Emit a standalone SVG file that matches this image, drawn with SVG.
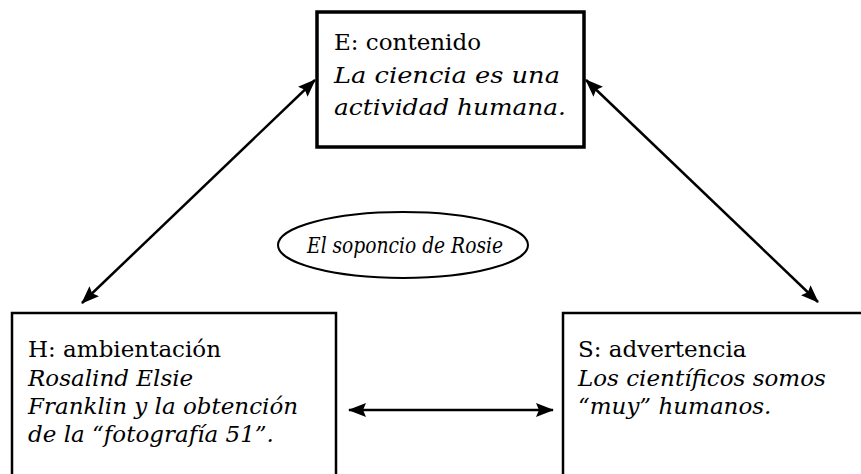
<svg xmlns="http://www.w3.org/2000/svg" width="861" height="474" viewBox="0 0 861 474">
  <defs>
    <marker id="ah" viewBox="0 0 18 14" refX="17" refY="7" markerWidth="18" markerHeight="14" markerUnits="userSpaceOnUse" orient="auto-start-reverse">
      <path d="M0,0 L18,7 L0,14 L3,7 Z" fill="#000"/>
    </marker>
  </defs>
  <style>
    .box { fill: #fff; stroke: #000; stroke-width: 3.5; }
    .box2 { fill: #fff; stroke: #000; stroke-width: 2.5; }
    .t { font-family: "DejaVu Serif", "Liberation Serif", serif; font-size: 23px; fill: #000; }
    .i { font-style: italic; }
    .conn { stroke: #000; stroke-width: 2.5; fill: none; marker-start: url(#ah); marker-end: url(#ah); }
  </style>
  <rect width="861" height="474" fill="#fff"/>
  <g id="connectors">
    <line class="conn" x1="315" y1="80" x2="82" y2="303"/>
    <line class="conn" x1="586" y1="80" x2="818" y2="302"/>
    <line class="conn" x1="349" y1="410" x2="553" y2="410"/>
  </g>
  <g id="node-e">
    <rect class="box" x="317" y="12" width="267" height="135"/>
    <text class="t" x="334" y="50">E: contenido</text>
    <text class="t i" x="334" y="83" textLength="226" lengthAdjust="spacingAndGlyphs">La ciencia es una</text>
    <text class="t i" x="334" y="115" textLength="232" lengthAdjust="spacingAndGlyphs">actividad humana.</text>
  </g>
  <g id="node-center">
    <ellipse cx="403" cy="245" rx="125" ry="33" fill="none" stroke="#000" stroke-width="2"/>
    <text class="t i" x="405" y="253" text-anchor="middle" style="font-size:22px" textLength="196" lengthAdjust="spacingAndGlyphs">El soponcio de Rosie</text>
  </g>
  <g id="node-h">
    <rect class="box2" x="12" y="313" width="324" height="180"/>
    <text class="t" x="28" y="357">H: ambientación</text>
    <text class="t i" x="28" y="386">Rosalind Elsie</text>
    <text class="t i" x="28" y="414">Franklin y la obtención</text>
    <text class="t i" x="28" y="442">de la “fotografía 51”.</text>
  </g>
  <g id="node-s">
    <rect class="box2" x="563" y="313" width="320" height="180"/>
    <text class="t" x="578" y="357">S: advertencia</text>
    <text class="t i" x="578" y="386">Los científicos somos</text>
    <text class="t i" x="578" y="414">“muy” humanos.</text>
  </g>
</svg>
